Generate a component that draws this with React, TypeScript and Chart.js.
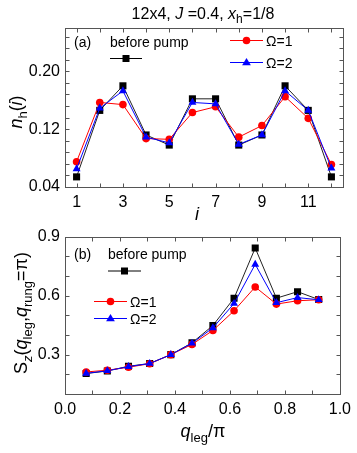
import React, { useEffect, useRef } from 'react';
import { Chart, registerables } from 'chart.js';
Chart.register(...registerables);

// ---------- data ----------
const sites = [1, 2, 3, 4, 5, 6, 7, 8, 9, 10, 11, 12];
const nhBefore = [0.054, 0.146, 0.180, 0.112, 0.098, 0.162, 0.162, 0.098, 0.112, 0.180, 0.146, 0.054];
const nhOmega1 = [0.075, 0.157, 0.154, 0.107, 0.106, 0.143, 0.151, 0.109, 0.125, 0.165, 0.135, 0.071];
const nhOmega2 = [0.065, 0.149, 0.173, 0.109, 0.101, 0.157, 0.155, 0.099, 0.112, 0.173, 0.146, 0.066];

const qLeg = [0.077, 0.154, 0.231, 0.308, 0.385, 0.462, 0.538, 0.615, 0.692, 0.769, 0.846, 0.923];
const szBefore = [0.204, 0.217, 0.241, 0.255, 0.300, 0.360, 0.448, 0.587, 0.842, 0.587, 0.620, 0.580];
const szOmega1 = [0.212, 0.221, 0.236, 0.254, 0.300, 0.352, 0.423, 0.523, 0.644, 0.557, 0.574, 0.579];
const szOmega2 = [0.205, 0.218, 0.239, 0.255, 0.300, 0.358, 0.436, 0.560, 0.759, 0.564, 0.590, 0.579];

// tick labels
const aXTicks = [1, 3, 5, 7, 9, 11];
const aYTicks = [0.04, 0.12, 0.2];
const bXTicks = [0, 0.2, 0.4, 0.6, 0.8, 1.0];
const bYTicks = [0.3, 0.6, 0.9];
// tick marks
const aXMarks = [1, 2, 3, 4, 5, 6, 7, 8, 9, 10, 11, 12];
const aYMarks = [0.04, 0.056, 0.072, 0.088, 0.104, 0.12, 0.136, 0.152, 0.168, 0.184, 0.2, 0.216, 0.232, 0.248];
const bXMarks = [0.1, 0.2, 0.3, 0.4, 0.5, 0.6, 0.7, 0.8, 0.9];
const bYMarks = [0.2, 0.3, 0.4, 0.5, 0.6, 0.7, 0.8];

const FONT = '"Liberation Sans", Arial, sans-serif';
const BLACK = '#000000';
const RED = '#ff0000';
const BLUE = '#0000ff';

type Seg = { t: string; it?: boolean; sub?: boolean };

function drawRich(ctx: CanvasRenderingContext2D, segs: Seg[], x: number, y: number, size: number, align: 'center' | 'left', rotate = false) {
  ctx.save();
  ctx.translate(x, y);
  if (rotate) ctx.rotate(-Math.PI / 2);
  const fontOf = (s: Seg) => `${s.it ? 'italic ' : ''}${s.sub ? Math.round(size * 0.72) : size}px ${FONT}`;
  let total = 0;
  const widths = segs.map((s) => {
    ctx.font = fontOf(s);
    const w = ctx.measureText(s.t).width;
    total += w;
    return w;
  });
  let cx = align === 'center' ? -total / 2 : 0;
  ctx.fillStyle = '#000';
  ctx.textBaseline = 'alphabetic';
  ctx.textAlign = 'left';
  segs.forEach((s, i) => {
    ctx.font = fontOf(s);
    ctx.fillText(s.t, cx, s.sub ? size * 0.28 : 0);
    cx += widths[i];
  });
  ctx.restore();
}

function marker(ctx: CanvasRenderingContext2D, kind: string, x: number, y: number, color: string) {
  ctx.save();
  ctx.fillStyle = color;
  ctx.beginPath();
  if (kind === 'rect') {
    ctx.rect(x - 3.5, y - 3.5, 7, 7);
  } else if (kind === 'circle') {
    ctx.arc(x, y, 3.8, 0, Math.PI * 2);
  } else {
    const r = 4.6;
    ctx.moveTo(x, y - r);
    ctx.lineTo(x + r * 0.95, y + r * 0.6);
    ctx.lineTo(x - r * 0.95, y + r * 0.6);
    ctx.closePath();
  }
  ctx.fill();
  ctx.restore();
}

function legendLine(ctx: CanvasRenderingContext2D, x1: number, x2: number, y: number, color: string, kind: string) {
  ctx.save();
  ctx.strokeStyle = color;
  ctx.lineWidth = 1;
  ctx.beginPath();
  ctx.moveTo(x1, y);
  ctx.lineTo(x2, y);
  ctx.stroke();
  ctx.restore();
  marker(ctx, kind, (x1 + x2) / 2, y, color);
}

function framePlugin(xMarks: number[], yMarks: number[]) {
  return {
    id: 'frame',
    beforeDatasetsDraw(chart: any) {
      const { ctx, chartArea: a, scales } = chart;
      ctx.save();
      ctx.strokeStyle = '#555';
      ctx.lineWidth = 1;
      const L = Math.round(a.left) + 0.5, R = Math.round(a.right) + 0.5;
      const T = Math.round(a.top) + 0.5, B = Math.round(a.bottom) + 0.5;
      ctx.strokeRect(L, T, R - L, B - T);
      ctx.beginPath();
      const tl = 4;
      xMarks.forEach((v) => {
        const px = Math.round(scales.x.getPixelForValue(v)) + 0.5;
        ctx.moveTo(px, B); ctx.lineTo(px, B - tl);
        ctx.moveTo(px, T); ctx.lineTo(px, T + tl);
      });
      yMarks.forEach((v) => {
        const py = Math.round(scales.y.getPixelForValue(v)) + 0.5;
        ctx.moveTo(L, py); ctx.lineTo(L + tl, py);
        ctx.moveTo(R, py); ctx.lineTo(R - tl, py);
      });
      ctx.stroke();
      ctx.restore();
    },
  };
}

function ds(label: string, xs: number[], ys: number[], color: string, lineColor: string, style: string, radius: number, order: number) {
  return {
    label,
    data: xs.map((x, i) => ({ x, y: ys[i] })),
    borderColor: lineColor,
    backgroundColor: color,
    pointBackgroundColor: color,
    pointBorderColor: color,
    pointStyle: style,
    pointRadius: radius,
    pointBorderWidth: 0,
    borderWidth: 1,
    tension: 0,
    order,
  };
}

function axisOpts(min: number, max: number, ticks: number[], digits: number, fit: (s: any) => void, padding: number) {
  return {
    type: 'linear' as const,
    min,
    max,
    grid: { display: false, drawTicks: false },
    border: { display: false },
    ticks: {
      color: '#000',
      font: { family: FONT, size: 16 },
      padding,
      autoSkip: false,
      maxRotation: 0,
      callback: (v: any) => Number(v).toFixed(digits),
    },
    afterBuildTicks: (s: any) => { s.ticks = ticks.map((v) => ({ value: v })); },
    afterFit: fit,
  };
}

export default function App() {
  const refA = useRef<HTMLCanvasElement>(null);
  const refB = useRef<HTMLCanvasElement>(null);

  useEffect(() => {
    const legendA = {
      id: 'legendA',
      afterDraw(chart: any) {
        const ctx = chart.ctx as CanvasRenderingContext2D;
        drawRich(ctx, [{ t: '12x4, ' }, { t: 'J', it: true }, { t: ' =0.4, ' }, { t: 'x', it: true }, { t: 'h', sub: true }, { t: '=1/8' }], 203, 18.5, 16, 'center');
        drawRich(ctx, [{ t: '(a)' }], 74, 47, 14, 'left');
        drawRich(ctx, [{ t: 'before pump' }], 110, 47, 14, 'left');
        legendLine(ctx, 110, 142, 58.5, BLACK, 'rect');
        legendLine(ctx, 230, 263, 40.5, RED, 'circle');
        drawRich(ctx, [{ t: 'Ω=1' }], 266, 46, 14, 'left');
        legendLine(ctx, 230, 263, 62.5, BLUE, 'triangle');
        drawRich(ctx, [{ t: 'Ω=2' }], 266, 67.5, 14, 'left');
        drawRich(ctx, [{ t: 'n', it: true }, { t: 'h', sub: true }, { t: '(' }, { t: 'i', it: true }, { t: ')' }], 22, 112, 18, 'center', true);
        drawRich(ctx, [{ t: 'i', it: true }], 197, 220, 18, 'center');
      },
    };
    const legendB = {
      id: 'legendB',
      afterDraw(chart: any) {
        const ctx = chart.ctx as CanvasRenderingContext2D;
        drawRich(ctx, [{ t: '(b)' }], 74, 36.5, 14, 'left');
        drawRich(ctx, [{ t: 'before pump' }], 108, 36.5, 14, 'left');
        legendLine(ctx, 108, 141, 49, BLACK, 'rect');
        legendLine(ctx, 94, 127, 79.5, RED, 'circle');
        drawRich(ctx, [{ t: 'Ω=1' }], 130, 85, 14, 'left');
        legendLine(ctx, 94, 127, 96.5, BLUE, 'triangle');
        drawRich(ctx, [{ t: 'Ω=2' }], 130, 101.5, 14, 'left');
        drawRich(ctx, [{ t: 'S' }, { t: 'z', sub: true, it: true }, { t: '(' }, { t: 'q', it: true }, { t: 'leg', sub: true }, { t: ',' }, { t: 'q', it: true }, { t: 'rung', sub: true }, { t: '=π)' }], 27, 91, 18, 'center', true);
        drawRich(ctx, [{ t: 'q', it: true }, { t: 'leg', sub: true }, { t: '/π' }], 203, 215, 18, 'center');
      },
    };

    const chartA = new Chart(refA.current!, {
      type: 'line',
      data: {
        datasets: [
          ds('before pump', sites, nhBefore, BLACK, '#222', 'rect', 5, 2),
          ds('Ω=1', sites, nhOmega1, RED, RED, 'circle', 3.8, 1),
          ds('Ω=2', sites, nhOmega2, BLUE, BLUE, 'triangle', 4.6, 0),
        ] as any,
      },
      options: {
        animation: false,
        responsive: false,
        maintainAspectRatio: false,
        layout: { padding: { top: 28, right: 14, left: 0, bottom: 0 } },
        plugins: { legend: { display: false }, tooltip: { enabled: false }, title: { display: false } },
        scales: {
          x: axisOpts(0.5, 12.5, aXTicks, 0, (s: any) => { s.height = 35; }, 6),
          y: axisOpts(0.04, 0.26, aYTicks, 2, (s: any) => { s.width = 65; }, 5),
        } as any,
      },
      plugins: [framePlugin(aXMarks, aYMarks), legendA],
    });

    const chartB = new Chart(refB.current!, {
      type: 'line',
      data: {
        datasets: [
          ds('before pump', qLeg, szBefore, BLACK, '#222', 'rect', 5, 2),
          ds('Ω=1', qLeg, szOmega1, RED, RED, 'circle', 3.8, 1),
          ds('Ω=2', qLeg, szOmega2, BLUE, BLUE, 'triangle', 4.6, 0),
        ] as any,
      },
      options: {
        animation: false,
        responsive: false,
        maintainAspectRatio: false,
        layout: { padding: { top: 13, right: 14, left: 0, bottom: 0 } },
        plugins: { legend: { display: false }, tooltip: { enabled: false }, title: { display: false } },
        scales: {
          x: axisOpts(0, 1, bXTicks, 1, (s: any) => { s.height = 59; }, 6),
          y: axisOpts(0.1, 0.9, bYTicks, 1, (s: any) => { s.width = 65; }, 5),
        } as any,
      },
      plugins: [framePlugin(bXMarks, bYMarks), legendB],
    });

    return () => {
      chartA.destroy();
      chartB.destroy();
    };
  }, []);

  return (
    <div style={{ position: 'fixed', left: 0, top: 0, width: 357, height: 453, background: '#fff' }}>
      <canvas ref={refA} width={357} height={222} style={{ position: 'absolute', left: 0, top: 0, width: 357, height: 222 }} />
      <canvas ref={refB} width={357} height={231} style={{ position: 'absolute', left: 0, top: 222, width: 357, height: 231 }} />
    </div>
  );
}
